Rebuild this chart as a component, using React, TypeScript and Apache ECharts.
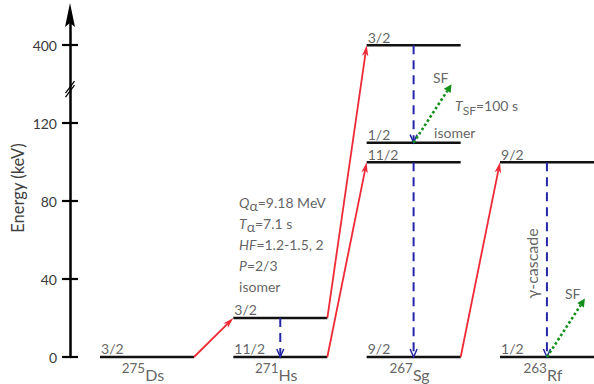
import React, { useEffect, useRef } from "react";
import * as echarts from "echarts";

// ---------- data ----------
const nuclideElements = ["Ds", "Hs", "Sg", "Rf"];
const nuclideMass = ["275", "271", "267", "263"];

// levels: column (nucleus index), energy (keV), spin
const levelColumn = [0, 1, 1, 2, 2, 2, 2, 3, 3];
const levelEnergy = [0, 0, 20, 0, 100, 110, 400, 0, 100];
const levelSpin = ["3/2", "11/2", "3/2", "9/2", "11/2", "1/2", "3/2", "1/2", "9/2"];

// alpha decays: level index -> level index
const alphaFrom = [0, 1, 2, 3];
const alphaTo = [2, 4, 6, 8];
// gamma transitions: level index -> level index
const gammaFrom = [2, 6, 4, 8];
const gammaTo = [1, 5, 3, 7];
// spontaneous fission branches from level index
const fissionFrom = [5, 7];

const energyTicks = [0, 40, 80, 120, 400];

// ---------- scale (broken energy axis) ----------
const BREAK_SHIFT = 240; // keV removed by the axis break
const BREAK_AT = 137.5; // axis units where the break mark sits
const toAxis = (e: number) => (e > 200 ? e - BREAK_SHIFT : e);
const fromAxis = (v: number) => (v > BREAK_AT ? v + BREAK_SHIFT : v);
const tickAxisValues = energyTicks.map(toAxis);

// ---------- layout ----------
const X_MIN = -0.225;
const X_MAX = 3.705;
const Y_MAX = 175;
const LEVEL_W = 0.705;
const GAMMA_X = 0.352;
const SF_VEC = [0.285, 30];
const FONT = "Lato, 'Noto Sans', 'DejaVu Sans', sans-serif";
const TEXT = "#3a3a3a";

const ARROW_STYLES = [
  { color: "#ee2a36", width: 1.8, dash: null as number[] | null, L: 11, W: 6.5, head: "notch" },
  { color: "#2626a8", width: 2, dash: [9, 6], L: 8, W: 7, head: "open" },
  { color: "#14901a", width: 2.6, dash: [2.6, 2.4], L: 8, W: 8, head: "fill" },
];

function buildOption() {
  const levelData = levelColumn.map((c, i) => [c, toAxis(levelEnergy[i])]);

  const arrowData: number[][] = [];
  alphaFrom.forEach((f, k) => {
    const t = alphaTo[k];
    arrowData.push([levelColumn[f] + LEVEL_W, toAxis(levelEnergy[f]), levelColumn[t], toAxis(levelEnergy[t]), 0]);
  });
  gammaFrom.forEach((f, k) => {
    const t = gammaTo[k];
    arrowData.push([levelColumn[f] + GAMMA_X, toAxis(levelEnergy[f]), levelColumn[t] + GAMMA_X, toAxis(levelEnergy[t]), 1]);
  });
  fissionFrom.forEach((f) => {
    const x = levelColumn[f] + GAMMA_X;
    const y = toAxis(levelEnergy[f]);
    arrowData.push([x, y, x + SF_VEC[0], y + SF_VEC[1], 2]);
  });

  const baseLabel = { show: true, fontFamily: FONT, fontSize: 14, color: TEXT };
  const rich = {
    i: { fontFamily: FONT, fontSize: 14, fontStyle: "italic", color: TEXT, lineHeight: 21 },
    n: { fontFamily: FONT, fontSize: 14, color: TEXT, lineHeight: 21 },
    a: { fontFamily: FONT, fontSize: 14, color: TEXT, lineHeight: 15, verticalAlign: "bottom" },
    s: { fontFamily: FONT, fontSize: 12, color: TEXT, lineHeight: 13, verticalAlign: "bottom" },
    m: { fontFamily: FONT, fontSize: 13.5, color: TEXT, lineHeight: 8, verticalAlign: "top" },
    e: { fontFamily: FONT, fontSize: 16, color: TEXT, lineHeight: 22, verticalAlign: "bottom" },
  };

  const texts: any[] = [];
  levelColumn.forEach((c, i) => {
    texts.push({
      value: [c + 0.008, toAxis(levelEnergy[i])],
      label: { ...baseLabel, formatter: levelSpin[i], position: [0, -1], align: "left", verticalAlign: "bottom" },
    });
  });
  nuclideElements.forEach((el, c) => {
    texts.push({
      value: [c + GAMMA_X - 0.03, 0],
      label: { ...baseLabel, rich, formatter: `{m|${nuclideMass[c]}}{e|${el}}`, position: [0, 4], align: "center", verticalAlign: "top" },
    });
  });
  texts.push({
    value: [1.043, 31],
    label: {
      ...baseLabel,
      rich,
      lineHeight: 21,
      formatter: "{i|Q}{a|α}{n|=9.18 MeV}\n{i|T}{a|α}{n|=7.1 s}\n{i|HF}{n|=1.2-1.5, 2}\n{i|P}{n|=2/3}\n{n|isomer}",
      position: [0, 0],
      align: "left",
      verticalAlign: "bottom",
    },
  });
  texts.push({ value: [2.498, 143.5], label: { ...baseLabel, formatter: "SF", position: [0, 0], align: "left", verticalAlign: "middle" } });
  texts.push({
    value: [2.663, 129],
    label: { ...baseLabel, rich, formatter: "{i|T}{s|SF}{n|=100 s}", position: [0, 0], align: "left", verticalAlign: "middle" },
  });
  texts.push({ value: [2.506, 115.4], label: { ...baseLabel, formatter: "isomer", position: [0, 0], align: "left", verticalAlign: "middle" } });
  texts.push({ value: [3.488, 32.8], label: { ...baseLabel, formatter: "SF", position: [0, 0], align: "left", verticalAlign: "middle" } });
  texts.push({
    value: [3.235, 48],
    label: { ...baseLabel, fontSize: 16, formatter: "γ-cascade", position: [0, 0], align: "center", verticalAlign: "middle", rotate: 90 },
  });

  const axisCommon = {
    type: "value",
    min: 0,
    max: Y_MAX,
    interval: 40,
    position: "left",
    splitLine: { show: false },
  };

  return {
    animation: false,
    grid: { left: 70, right: 0, top: 16, bottom: 27, outerBoundsMode: "none" },
    xAxis: { type: "value", min: X_MIN, max: X_MAX, show: false },
    yAxis: [
      {
        ...axisCommon,
        axisLine: { show: true, onZero: false, lineStyle: { color: "#000", width: 2.5 }, symbol: "none" },
        axisTick: { show: true, length: 8, customValues: tickAxisValues, lineStyle: { color: "#000", width: 2.2 } },
        axisLabel: {
          margin: 13,
          fontFamily: FONT,
          fontSize: 14,
          color: TEXT,
          customValues: tickAxisValues,
          formatter: (v: number) => (energyTicks.includes(fromAxis(v)) ? String(fromAxis(v)) : ""),
        },
      },
      {
        ...axisCommon,
        axisLine: { show: false, onZero: false },
        axisTick: { show: true, inside: true, length: 8, customValues: tickAxisValues, lineStyle: { color: "#000", width: 2.2 } },
        axisLabel: { show: false },
      },
    ],
    graphic: [
      {
        type: "text",
        x: 18,
        y: 188,
        rotation: Math.PI / 2,
        style: { text: "Energy (keV)", fontFamily: FONT, fontSize: 16.5, fill: "#404040", align: "center", verticalAlign: "middle" },
      },
    ],
    series: [
      {
        type: "custom",
        name: "levels",
        silent: true,
        clip: false,
        encode: { x: 0, y: 1 },
        data: levelData,
        renderItem: (params: any, api: any) => {
          const a = api.coord([api.value(0), api.value(1)]);
          const b = api.coord([api.value(0) + LEVEL_W, api.value(1)]);
          return { type: "line", shape: { x1: a[0], y1: a[1], x2: b[0], y2: b[1] }, style: { stroke: "#111", lineWidth: 2.5 } };
        },
      },
      {
        type: "custom",
        name: "transitions",
        silent: true,
        clip: false,
        encode: { x: [0, 2], y: [1, 3] },
        data: arrowData,
        renderItem: (params: any, api: any) => {
          const a = api.coord([api.value(0), api.value(1)]);
          const b = api.coord([api.value(2), api.value(3)]);
          const st = ARROW_STYLES[api.value(4)];
          const dx = b[0] - a[0];
          const dy = b[1] - a[1];
          const len = Math.hypot(dx, dy);
          const ux = dx / len;
          const uy = dy / len;
          const nx = -uy;
          const ny = ux;
          const bx = b[0] - ux * st.L;
          const by = b[1] - uy * st.L;
          const p1 = [bx + (nx * st.W) / 2, by + (ny * st.W) / 2];
          const p2 = [bx - (nx * st.W) / 2, by - (ny * st.W) / 2];
          let end = b;
          let head: any;
          if (st.head === "open") {
            end = [b[0] - ux * 1, b[1] - uy * 1];
            head = { type: "polyline", shape: { points: [p1, b, p2] }, style: { stroke: st.color, lineWidth: 1.5, fill: null } };
          } else if (st.head === "notch") {
            const nxp = [b[0] - ux * st.L * 0.72, b[1] - uy * st.L * 0.72];
            end = nxp;
            head = { type: "polygon", shape: { points: [b, p1, nxp, p2] }, style: { fill: st.color } };
          } else {
            end = [bx, by];
            head = { type: "polygon", shape: { points: [b, p1, p2] }, style: { fill: st.color } };
          }
          return {
            type: "group",
            children: [
              {
                type: "line",
                shape: { x1: a[0], y1: a[1], x2: end[0], y2: end[1] },
                style: { stroke: st.color, lineWidth: st.width, lineDash: st.dash || undefined },
              },
              head,
            ],
          };
        },
      },
      {
        type: "custom",
        name: "axisDecor",
        silent: true,
        clip: false,
        encode: { x: 0, y: 1 },
        data: [[X_MIN, BREAK_AT, 0], [X_MIN, Y_MAX, 1]],
        renderItem: (params: any, api: any) => {
          const p = api.coord([api.value(0), api.value(1)]);
          if (api.value(2) === 1) {
            // arrow head at the top of the energy axis
            return {
              type: "polygon",
              shape: { points: [[p[0], p[1] - 13], [p[0] + 5, p[1] + 11], [p[0], p[1] + 7], [p[0] - 5, p[1] + 11]] },
              style: { fill: "#000" },
            };
          }
          const mk = (off: number) => ({
            type: "line",
            shape: { x1: p[0] - 4.5, y1: p[1] + 6 + off, x2: p[0] + 4.5, y2: p[1] - 6 + off },
            style: { stroke: "#000", lineWidth: 1.3 },
          });
          return { type: "group", children: [mk(-2), mk(2)] };
        },
      },
      {
        type: "scatter",
        name: "texts",
        silent: true,
        symbolSize: 0.1,
        itemStyle: { color: "transparent" },
        data: texts,
      },
    ],
  };
}

export default function App() {
  const ref = useRef<HTMLDivElement>(null);
  useEffect(() => {
    const chart = echarts.init(ref.current!, null, { renderer: "svg" });
    chart.setOption(buildOption() as any);
    return () => chart.dispose();
  }, []);
  return <div ref={ref} style={{ position: "absolute", left: 0, top: 0, width: 594, height: 384 }} />;
}
